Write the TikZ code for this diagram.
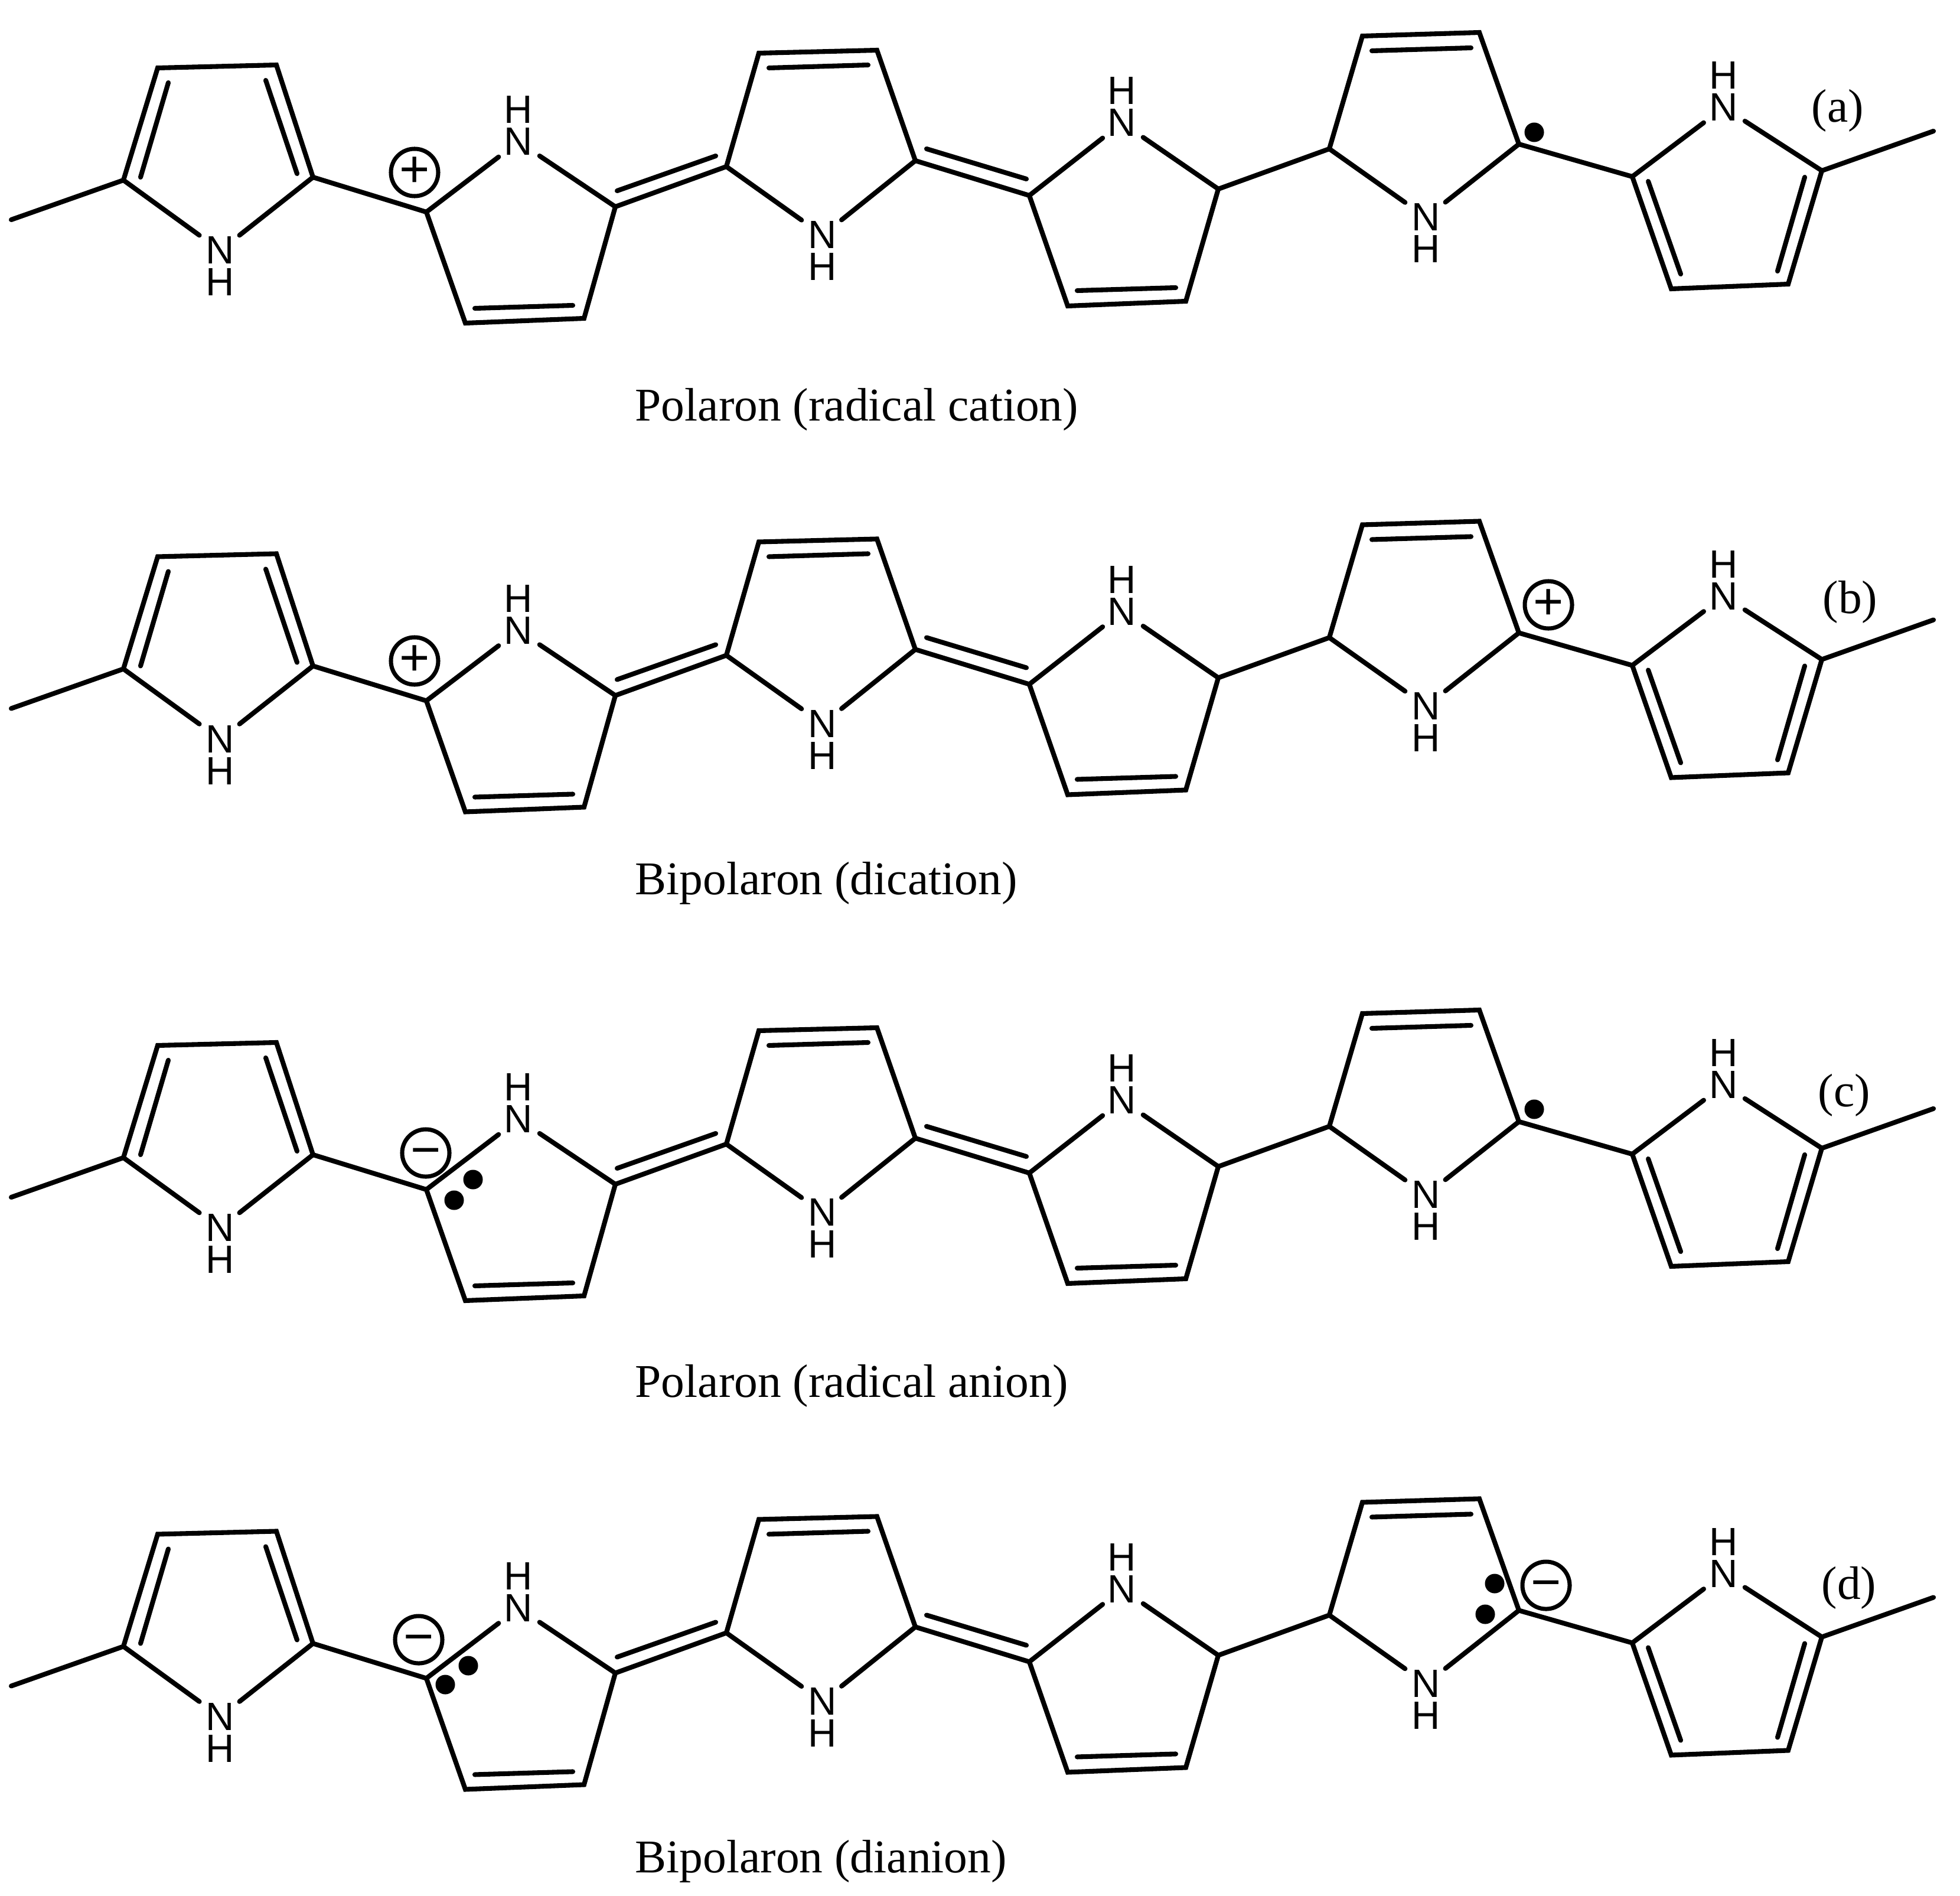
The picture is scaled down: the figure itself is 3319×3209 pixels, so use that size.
\documentclass[tikz,border=0pt]{standalone}
\usepackage{fontspec}
\usepackage{xcolor}
\usepackage{tikz}
\setmainfont{Liberation Serif}
\newfontfamily\atomfont{Liberation Sans}

\tikzset{
    bond/.style={line width=2.3pt, line cap=round},
    atom/.style={inner sep=0, minimum width=0.70cm, minimum height=0.50cm,
        font=\atomfont\fontsize{19}{19}\selectfont},
    charge/.style={draw, circle, line width=2pt, inner sep=0, minimum size=0.80cm,
        text height=14pt, text depth=0pt,
        font=\atomfont\fontsize{25}{25}\selectfont},
    elec/.style={fill, circle, inner sep=0, minimum size=0.33cm},
    caption/.style={inner sep=0, font=\fontsize{22.6}{24}\selectfont},
}

\begin{document}
\begin{tikzpicture}[x=0.01cm, y=-0.01cm]
    \useasboundingbox (0, 0) rectangle (3319, 3209);
    % the four chains
    \foreach \r/\lab/\labx/\laby/\cap/\capy in {
        0/a/3112/187/{Polaron (radical cation)}/712,
        1/b/3133/192/{Bipolaron (dication)}/687,
        2/c/3123/199/{Polaron (radical anion)}/711,
        3/d/3131/206/{Bipolaron (dianion)}/688}
    {
        \begin{scope}[yshift=-\r*8.27cm]
            % ring atoms
            \foreach \name/\x/\y in {
                endL/19/372, a1/209/305, a2/267/115, a3/468/110, a4/530/300,
                b1/722/359, b2/788/547, b3/989/539, b4/1042/350,
                c1/1230/282, c2/1285/90, c3/1485/85, c4/1550/272,
                d1/1743/331, d2/1808/518, d3/2008/510, d4/2063/320,
                e1/2251/252, e2/2307/61, e3/2505/55, e4/2572/244,
                f1/2764/299, f2/2830/489, f3/3028/481, f4/3085/289, endR/3274/222}
                \coordinate (\name) at (\x, \y);
            % inner lines of the double bonds
            \foreach \name/\x/\y in {
                ia1/238/300, ia2/285/140, ia3/450/136, ia4/503/294,
                ib1/804/522, ib2/970/517, ibc1/1045/323, ibc2/1212/264,
                ic1/1302/115, ic2/1470/110, icd1/1569/252, icd2/1738/303,
                id1/1824/492, id2/1991/487, ie1/2323/86, ie2/2491/81,
                if1/2791/307, if2/2846/464, if3/3010/459, if4/3056/300}
                \coordinate (\name) at (\x, \y);
            % NH groups
            \foreach \name/\x/\y/\d in {
                Na/373/424/1, Nb/878/240/-1, Nc/1393/398/1,
                Nd/1900/208/-1, Ne/2415/368/1, Nf/2919/182/-1}
            {
                \node [atom] (\name) at (\x, \y) {N};
                \node [atom] (H\name) at (\x, {\y + 54*\d}) {H};
            }
            % skeleton
            \draw [bond] (endL) -- (a1) -- (a2) -- (a3) -- (a4) -- (b1) -- (b2) -- (b3) -- (b4) -- (c1)
                -- (c2) -- (c3) -- (c4) -- (d1) -- (d2) -- (d3) -- (d4) -- (e1)
                -- (e2) -- (e3) -- (e4) -- (f1) -- (f2) -- (f3) -- (f4) -- (endR);
            \foreach \u/\v/\n in {a1/a4/Na, b1/b4/Nb, c1/c4/Nc, d1/d4/Nd, e1/e4/Ne, f1/f4/Nf}
            {
                \draw [bond] (\u) -- (\n);
                \draw [bond] (\v) -- (\n);
            }
            % double bonds
            \foreach \u/\v in {ia1/ia2, ia3/ia4, ib1/ib2, ibc1/ibc2, ic1/ic2,
                icd1/icd2, id1/id2, ie1/ie2, if1/if2, if3/if4}
                \draw [bond] (\u) -- (\v);
            % labels
            \node [caption] (lab\r) at (\labx, \laby) {(\lab)};
            \node [caption, anchor=base west] (cap\r) at (1075, \capy) {\cap};
        \end{scope}
    }
    % charges and electrons
    \node [charge] (plusA) at (702, 292) {+};
    \node [elec] (dotA) at (2598, 224) {};
    \node [charge] (plusB) at (702, 1119) {+};
    \node [charge] (plusC) at (2622, 1024) {+};
    \node [charge] (minusD) at (721, 1952) {−};
    \node [elec] (dotD1) at (801, 1997) {};
    \node [elec] (dotD2) at (769, 2032) {};
    \node [elec] (dotD3) at (2598, 1878) {};
    \node [charge] (minusE) at (709, 2776) {−};
    \node [elec] (dotE1) at (793, 2820) {};
    \node [elec] (dotE2) at (754, 2852) {};
    \node [charge] (minusF) at (2618, 2684) {−};
    \node [elec] (dotF1) at (2531, 2681) {};
    \node [elec] (dotF2) at (2515, 2733) {};
\end{tikzpicture}
\end{document}
